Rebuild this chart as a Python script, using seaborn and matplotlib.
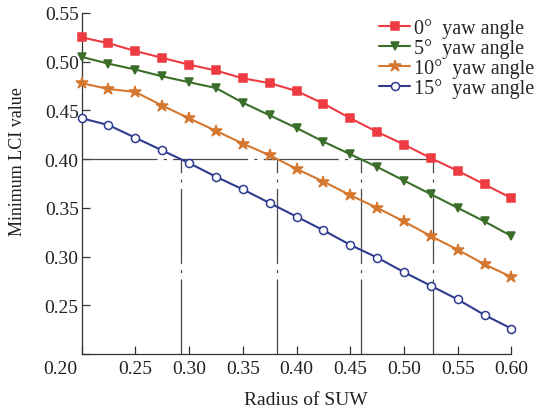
import numpy as np
import matplotlib
matplotlib.use("Agg")
import matplotlib.pyplot as plt
import matplotlib.transforms as mtransforms
import seaborn as sns

# Radius of the SUW (x) and minimum LCI for each yaw angle
radius = [0.200, 0.225, 0.250, 0.275, 0.300, 0.325, 0.350, 0.375, 0.400,
          0.425, 0.450, 0.475, 0.500, 0.525, 0.550, 0.575, 0.600]
lci_yaw0 = [0.525, 0.519, 0.511, 0.504, 0.497, 0.491, 0.483, 0.478, 0.470,
            0.457, 0.442, 0.428, 0.415, 0.401, 0.388, 0.374, 0.360]
lci_yaw5 = [0.505, 0.498, 0.492, 0.485, 0.479, 0.473, 0.458, 0.445, 0.432,
            0.418, 0.405, 0.392, 0.378, 0.364, 0.350, 0.336, 0.321]
lci_yaw10 = [0.478, 0.472, 0.469, 0.455, 0.442, 0.429, 0.416, 0.404, 0.390,
             0.377, 0.363, 0.350, 0.336, 0.321, 0.307, 0.292, 0.279]
lci_yaw15 = [0.442, 0.435, 0.422, 0.409, 0.396, 0.382, 0.369, 0.355, 0.341,
             0.327, 0.312, 0.299, 0.284, 0.270, 0.256, 0.240, 0.226]
series_labels = ["0°  yaw angle", "5°  yaw angle", "10°  yaw angle", "15°  yaw angle"]
threshold = 0.40
x_ticks = [0.20, 0.25, 0.30, 0.35, 0.40, 0.45, 0.50, 0.55, 0.60]
y_ticks = [0.20, 0.25, 0.30, 0.35, 0.40, 0.45, 0.50, 0.55]

sns.set_style("ticks")
plt.rcParams["font.family"] = ["Liberation Serif", "DejaVu Serif"]
plt.rcParams["lines.scale_dashes"] = True

fig = plt.figure(figsize=(5.44, 4.10), dpi=100)
ax = fig.add_axes([81.5 / 544, 1 - 355 / 410, 430 / 544, 341 / 410])

series = [lci_yaw0, lci_yaw5, lci_yaw10, lci_yaw15]
colors = ["#ee3b42", "#3b6e29", "#d5772e", "#2f3b8f"]
markers = ["s", "v", "*", "o"]
msizes = [5.8, 6.2, 8.8, 5.8]
faces = ["#ee3b42", "#3b6e29", "#d5772e", "white"]

for vals, lab, col, mk, ms, fc in zip(series, series_labels, colors, markers, msizes, faces):
    sns.lineplot(x=radius, y=vals, ax=ax, color=col, marker=mk, markersize=ms,
                 markerfacecolor=fc, markeredgecolor=col, markeredgewidth=1.1,
                 linewidth=1.5, label=lab, clip_on=False, zorder=3)

ax.set_xlim(x_ticks[0], x_ticks[-1])
ax.set_ylim(y_ticks[0], y_ticks[-1])

# Radius at which each curve reaches the LCI threshold
crossings = [float(np.interp(threshold, v[::-1], radius[::-1])) for v in series]
ref_style = dict(color="#4a4a4a", linewidth=0.9, dashes=(60, 5, 2.5, 5), zorder=2)
ax.plot([x_ticks[0], max(crossings)], [threshold, threshold], **ref_style)
for xc in crossings:
    ax.plot([xc, xc], [y_ticks[0], threshold], **ref_style)

ax.set_xticks(x_ticks)
ax.set_yticks(y_ticks)
ax.set_xticklabels([f"{t:.2f}" for t in x_ticks])
# The origin value is written once, below the corner
ax.set_yticklabels([""] + [f"{t:.2f}" for t in y_ticks[1:]])
ax.tick_params(direction="in", length=6, width=0.9, color="#333333",
               labelsize=14, labelcolor="#222222")
ax.tick_params(axis="x", pad=4)
ax.tick_params(axis="y", pad=2)
for side in ("top", "right"):
    ax.spines[side].set_visible(False)
for side in ("left", "bottom"):
    ax.spines[side].set_color("#333333")
    ax.spines[side].set_linewidth(0.9)

xl0 = ax.get_xticklabels()[0]
xl0.set_transform(xl0.get_transform() +
                  mtransforms.ScaledTranslation(-15 / 72, 0, fig.dpi_scale_trans))

ax.set_xlabel("Radius of SUW", fontsize=14, color="#222222")
ax.set_ylabel("Minimum LCI value", fontsize=13, color="#222222")
ax.xaxis.set_label_coords(0.521, -0.108)
ax.yaxis.set_label_coords(-0.13, 0.566)

ax.legend(loc="upper left", bbox_to_anchor=(379 / 544, 1 - 19 / 410),
          bbox_transform=fig.transFigure, frameon=False, fontsize=14.5,
          handlelength=1.55, handletextpad=0.2, labelspacing=0.0,
          borderpad=0, borderaxespad=0)

fig.savefig("out.png", dpi=100)
